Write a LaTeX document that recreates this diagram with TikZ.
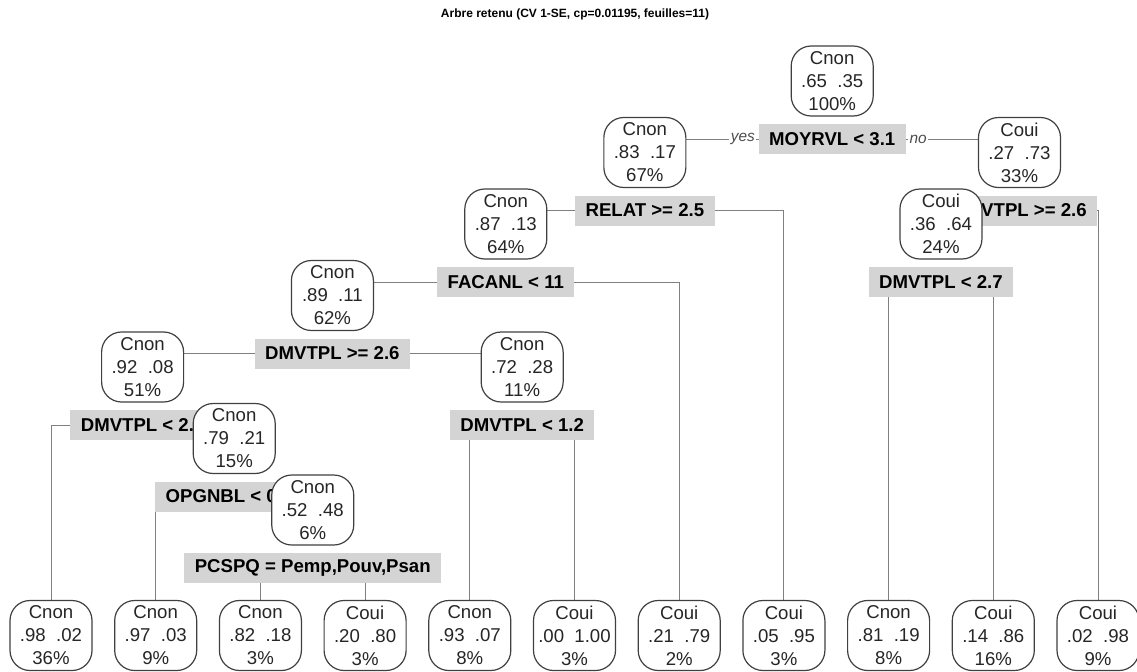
\documentclass[tikz,border=0pt]{standalone}
\usepackage{fontspec}
\setmainfont{Liberation Sans}
\usetikzlibrary{positioning,backgrounds}

\begin{document}
\begin{tikzpicture}[x=0.5pt, y=-0.5pt, node distance=3.5pt]
\tikzstyle{box} = [draw=black!75, line width=0.6pt, rounded corners=10pt, fill=white, align=center, minimum width=41pt, minimum height=35pt, inner sep=1pt, text=black!85, font=\fontsize{9.3}{11.5}\selectfont]
\tikzstyle{split} = [fill=gray!34, minimum height=15pt, inner xsep=5.2pt, inner ysep=0pt, font=\fontsize{9.3}{11}\selectfont\bfseries]
\tikzstyle{branch} = [draw=gray, line width=0.5pt]
\tikzstyle{yesno} = [fill=white, inner sep=0.8pt, text=black!70, font=\fontsize{7.7}{9}\selectfont\itshape]

\useasboundingbox (0,0) rectangle (1137,671);

% Title
\node [font=\fontsize{6}{7}\selectfont\bfseries] (title) at (575,14) {Arbre retenu (CV 1-SE, cp=0.01195, feuilles=11)};

% Root and its split
\node [box] (n1) at (832.2,81) {Cnon\\.65\ \ .35\\100\%};
\node [split, below=of n1] (s1) {MOYRVL < 3.1};
\node [yesno, left=0.7pt of s1] (yes) {yes};
\node [yesno, right=0.7pt of s1] (no) {no};

% Depth 1
\node [box] (n2) at (644.85,152.5) {Cnon\\.83\ \ .17\\67\%};
\node [split, below=of n2] (s2) {RELAT >= 2.5};
\node [box] (n3) at (1019.5,152.5) {Coui\\.27\ \ .73\\33\%};
\node [split, below=of n3] (s3) {\phantom{DM}VTPL >= 2.6};

% Depth 2
\node [box] (n4) at (505.8,224) {Cnon\\.87\ \ .13\\64\%};
\node [split, below=of n4] (s4) {FACANL < 11};
\node [box] (n6) at (940.95,224) {Coui\\.36\ \ .64\\24\%};
\node [split, below=of n6] (s6) {DMVTPL < 2.7};

% Depth 3
\node [box] (n8) at (332.4,295.5) {Cnon\\.89\ \ .11\\62\%};
\node [split, below=of n8] (s8) {DMVTPL >= 2.6};

% Depth 4
\node [box] (n16) at (142.6,367) {Cnon\\.92\ \ .08\\51\%};
\node [split, below=of n16] (s16) {DMVTPL < 2.\phantom{5}};
\node [box] (n17) at (522.15,367) {Cnon\\.72\ \ .28\\11\%};
\node [split, below=of n17] (s17) {DMVTPL < 1.2};

% Depth 5 and 6
\node [box] (n33) at (234.2,438.5) {Cnon\\.79\ \ .21\\15\%};
\node [split, below=of n33] (s33) {OPGNBL < 0\phantom{.59}};
\node [box] (n67) at (312.75,510) {Cnon\\.52\ \ .48\\6\%};
\node [split, below=of n67] (s67) {PCSPQ = Pemp,Pouv,Psan};

% Leaves along the bottom
\node [box] (n32) at (51,635.5) {Cnon\\.98\ \ .02\\36\%};
\node [box] (n66) at (155.7,635.5) {Cnon\\.97\ \ .03\\9\%};
\node [box] (n134) at (260.4,635.5) {Cnon\\.82\ \ .18\\3\%};
\node [box] (n135) at (365.1,635.5) {Coui\\.20\ \ .80\\3\%};
\node [box] (n34) at (469.8,635.5) {Cnon\\.93\ \ .07\\8\%};
\node [box] (n35) at (574.5,635.5) {Coui\\.00\ \ 1.00\\3\%};
\node [box] (n9) at (679.2,635.5) {Coui\\.21\ \ .79\\2\%};
\node [box] (n5) at (783.9,635.5) {Coui\\.05\ \ .95\\3\%};
\node [box] (n12) at (888.6,635.5) {Cnon\\.81\ \ .19\\8\%};
\node [box] (n13) at (993.3,635.5) {Coui\\.14\ \ .86\\16\%};
\node [box] (n7) at (1098,635.5) {Coui\\.02\ \ .98\\9\%};

% Branches
\begin{pgfonlayer}{background}
\draw [branch] (s1.center) -| (n2.center);
\draw [branch] (s1.center) -| (n3.center);
\draw [branch] (s2.center) -| (n4.center);
\draw [branch] (s2.center) -| (n5.center);
\draw [branch] (s3.center) -| (n6.center);
\draw [branch] (s3.center) -| (n7.center);
\draw [branch] (s4.center) -| (n8.center);
\draw [branch] (s4.center) -| (n9.center);
\draw [branch] (s6.center) -| (n12.center);
\draw [branch] (s6.center) -| (n13.center);
\draw [branch] (s8.center) -| (n16.center);
\draw [branch] (s8.center) -| (n17.center);
\draw [branch] (s16.center) -| (n32.center);
\draw [branch] (s16.center) -| (n33.center);
\draw [branch] (s17.center) -| (n34.center);
\draw [branch] (s17.center) -| (n35.center);
\draw [branch] (s33.center) -| (n66.center);
\draw [branch] (s33.center) -| (n67.center);
\draw [branch] (s67.center) -| (n134.center);
\draw [branch] (s67.center) -| (n135.center);
\end{pgfonlayer}

\end{tikzpicture}
\end{document}
